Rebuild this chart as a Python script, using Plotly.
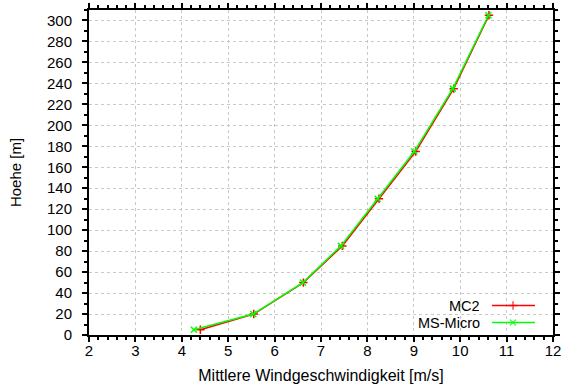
import plotly.graph_objects as go

# Wind profile: mean wind speed vs. height
hoehe = [5, 20, 50, 85, 130, 175, 235, 305]
mc2 = [4.40, 5.55, 6.62, 7.46, 8.25, 9.04, 9.86, 10.62]
ms_micro = [4.26, 5.54, 6.61, 7.43, 8.22, 9.01, 9.84, 10.61]

series = [
    ("MC2", mc2, "#ff0000", "cross-thin-open"),
    ("MS-Micro", ms_micro, "#00ff00", "x-thin-open"),
]

FONT = "Liberation Sans, Arial, sans-serif"
FS = 15

fig = go.Figure()
for name, xs, color, sym in series:
    fig.add_trace(go.Scatter(
        x=xs, y=hoehe, mode="lines+markers", name=name,
        line=dict(color=color, width=1.5),
        marker=dict(symbol=sym, size=6, line=dict(color=color, width=1.5)),
        showlegend=False,
    ))

# Key in the lower right corner: label on the left, sample on the right
key_rows = [305.5, 322.5]
for (name, xs, color, sym), ky in zip(series, key_rows):
    fig.add_trace(go.Scatter(
        x=[492, 513, 535], y=[ky, ky, ky], xaxis="x2", yaxis="y2",
        mode="lines+markers", showlegend=False, hoverinfo="skip",
        line=dict(color=color, width=1.5),
        marker=dict(symbol=sym, size=[0, 6, 0], line=dict(color=color, width=1.5)),
    ))
    fig.add_annotation(
        x=481, y=ky, xref="x2", yref="y2", text=name, showarrow=False,
        xanchor="right", yanchor="middle", height=14, borderpad=0,
        font=dict(family=FONT, size=14.5, color="black"),
    )

axis_common = dict(
    showline=True, linecolor="black", linewidth=2, mirror="allticks",
    ticks="outside", ticklen=5, tickwidth=2, tickcolor="black",
    showgrid=True, gridcolor="#c8c8c8", griddash="dot", gridwidth=1,
    zeroline=False, automargin=False,
    tickfont=dict(family=FONT, size=FS, color="black"),
)

fig.update_layout(
    width=565, height=389,
    margin=dict(l=89, r=12, t=10, b=54),
    paper_bgcolor="white", plot_bgcolor="white",
    font=dict(family=FONT, size=FS, color="black"),
    xaxis=dict(
        range=[2, 12], dtick=1, tick0=2,
        minor=dict(dtick=0.2, ticks="outside", ticklen=3, tickwidth=1.5, tickcolor="black", showgrid=False),
        title=dict(text="Mittlere Windgeschwindigkeit [m/s]", standoff=12,
                   font=dict(family=FONT, size=16, color="black")),
        ticklabelstandoff=-4,
        **axis_common,
    ),
    yaxis=dict(
        range=[0, 310], dtick=20, tick0=0,
        minor=dict(dtick=10, ticks="outside", ticklen=3, tickwidth=1.5, tickcolor="black", showgrid=False),
        title=dict(text="Hoehe [m]", standoff=22,
                   font=dict(family=FONT, size=FS, color="black")),
        ticklabelstandoff=7,
        **axis_common,
    ),
    xaxis2=dict(overlaying="x", range=[89, 553], visible=False, fixedrange=True),
    yaxis2=dict(overlaying="y", range=[335, 10], visible=False, fixedrange=True),
)

fig.write_html("out.html")
